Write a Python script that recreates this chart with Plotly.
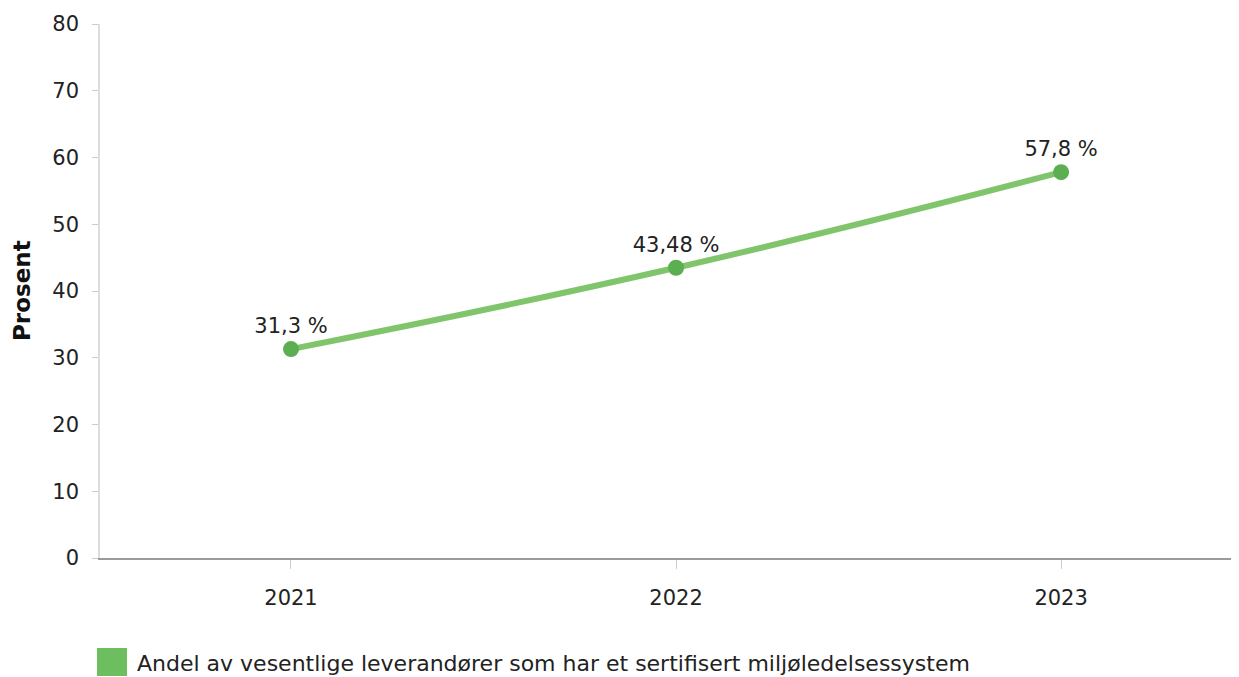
import plotly.graph_objects as go

years = ["2021", "2022", "2023"]
values = [31.3, 43.48, 57.8]
labels = ["31,3 %", "43,48 %", "57,8 %"]
y_ticks = [0, 10, 20, 30, 40, 50, 60, 70, 80]
legend_label = "Andel av vesentlige leverandører som har et sertifisert miljøledelsessystem"

FONT = "DejaVu Sans"
x_pos = list(range(len(years)))

# page has an 8px body margin, so figure is 8px smaller than the window
W, H = 1231, 669
ML, MT, MB = 92, 16, 119
PW, PH = W - ML, H - MT - MB


def px(x):
    return (x - ML) / PW


def py(y):
    return (H - MB - y) / PH


fig = go.Figure()
fig.add_trace(go.Scatter(
    x=x_pos, y=values,
    mode="lines+markers+text",
    line=dict(color="#80C56C", width=6, shape="spline", smoothing=1.3),
    marker=dict(color="#5BAF50", size=16),
    text=labels, textposition="top center",
    textfont=dict(family=FONT, size=21, color="#222222"),
    showlegend=False,
    cliponaxis=False,
))

fig.update_layout(
    width=W, height=H,
    margin=dict(l=ML, r=0, t=MT, b=MB, autoexpand=False),
    paper_bgcolor="white", plot_bgcolor="white",
    font=dict(family=FONT, size=21, color="#222222"),
    xaxis=dict(
        range=[-0.496, 2.462],
        tickvals=x_pos, ticktext=years,
        showgrid=False, zeroline=False, automargin=False,
        showline=True, linecolor="#9a9a9a", linewidth=1.5,
        ticks="outside", ticklen=9, tickcolor="#cccccc",
        ticklabelstandoff=11,
        tickfont=dict(family=FONT, size=21, color="#222222"),
    ),
    yaxis=dict(
        range=[0, 80], tickvals=y_ticks,
        showgrid=False, zeroline=False, automargin=False,
        showline=True, linecolor="#dddddd", linewidth=1.5,
        ticks="outside", ticklen=6, tickcolor="#cccccc",
        ticklabelstandoff=9,
        tickfont=dict(family=FONT, size=21, color="#222222"),
    ),
)

# y-axis title
fig.add_annotation(xref="paper", yref="paper", x=px(14), y=0.5,
                   xanchor="center", yanchor="middle", showarrow=False, textangle=-90,
                   text="<b>Prosent</b>", font=dict(family=FONT, size=23, color="#111111"))

# legend (swatch + text)
fig.add_shape(type="rect", xref="paper", yref="paper",
              x0=px(89), x1=px(119), y0=py(668), y1=py(640),
              fillcolor="#6DBE5F", line=dict(width=0))
fig.add_annotation(xref="paper", yref="paper", x=px(127), y=py(655),
                   xanchor="left", yanchor="middle", showarrow=False,
                   text=legend_label, font=dict(family=FONT, size=22, color="#222222"))

fig.write_html("out.html")
